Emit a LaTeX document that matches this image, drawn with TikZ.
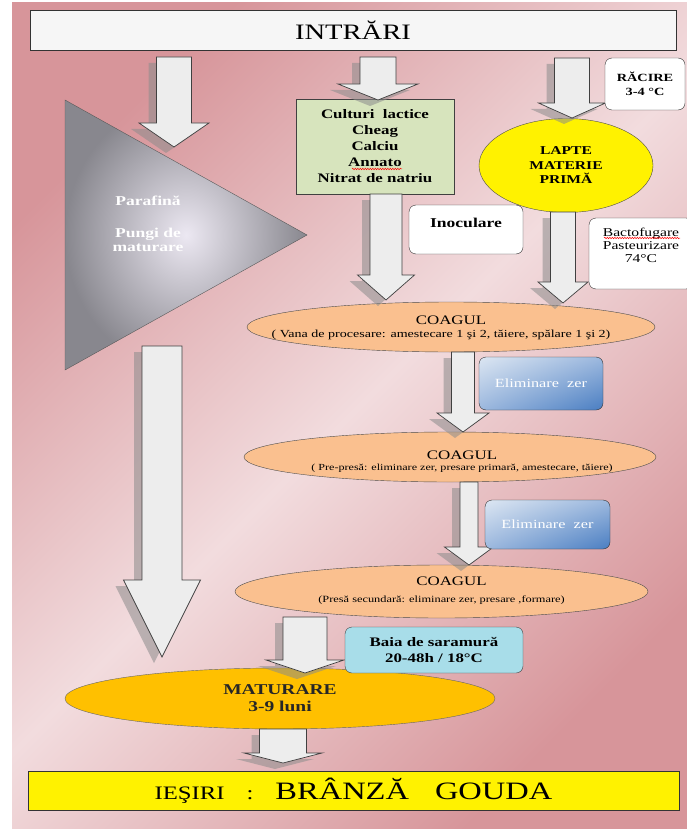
\documentclass[tikz,border=0pt]{standalone}
\usepackage{fontspec}
\setmainfont{Liberation Serif}[FakeStretch=1.3]
\usetikzlibrary{shapes.geometric,calc,shadings,decorations.pathmorphing}

\definecolor{rosedark}{HTML}{D7959A}
\definecolor{roselight}{HTML}{F2DCDE}
\definecolor{arrowgray}{HTML}{EDEDED}
\definecolor{greenbox}{HTML}{D7E4BD}
\definecolor{coagfill}{HTML}{FAC08F}
\definecolor{maturfill}{HTML}{FFC000}
\definecolor{brinefill}{HTML}{A8DDE9}
\definecolor{bluelight}{HTML}{DCE6F2}
\definecolor{bluemid}{HTML}{9CB8DE}
\definecolor{bluedark}{HTML}{4A7EC2}
\definecolor{tricenter}{HTML}{ECE8F2}
\definecolor{triedge}{HTML}{88878E}

\newcommand{\fatarrow}[5]{%
  \fill[arrowshadow] let \p1=(#1), \p2=(#2) in
    (\x2-#3pt-8pt,\y1-6pt) -- (\x2-#3pt-8pt,\y2+#5pt-6pt) -- (\x2-#4pt-8pt,\y2+#5pt-6pt)
    -- (\x2-8pt,\y2-6pt) -- (\x2+#4pt-8pt,\y2+#5pt-6pt) -- (\x2+#3pt-8pt,\y2+#5pt-6pt)
    -- (\x2+#3pt-8pt,\y1-6pt) -- cycle;
  \draw[arrowbody] let \p1=(#1), \p2=(#2) in
    (\x2-#3pt,\y1) -- (\x2-#3pt,\y2+#5pt) -- (\x2-#4pt,\y2+#5pt) -- (\x2,\y2)
    -- (\x2+#4pt,\y2+#5pt) -- (\x2+#3pt,\y2+#5pt) -- (\x2+#3pt,\y1) -- cycle;
}

\tikzset{
  whitebox/.style={draw=black!80, fill=white, rounded corners=7pt, align=center},
  coagul/.style={ellipse, draw=black!70, fill=coagfill, inner sep=0pt},
  coagtitle/.style={inner sep=1pt, font=\fontsize{13}{15}\selectfont},
  coagsub/.style={inner sep=1pt},
  zerbox/.style={draw=black!80, rounded corners=7pt, upper left=bluelight, upper right=bluemid,
    lower left=bluemid, lower right=bluedark, text=white, font=\fontsize{12.5}{14}\selectfont},
  arrowbody/.style={draw=black!75, line width=0.7pt, fill=arrowgray},
  arrowshadow/.style={fill=black!45, opacity=0.55},
  tritext/.style={text=white, align=center, font=\bfseries\fontsize{13.5}{14}\selectfont},
  spellwave/.style={red, line width=0.5pt, decorate, decoration={snake, amplitude=0.7pt, segment length=2.5pt}}
}

\begin{document}
\begin{tikzpicture}[x=1pt,y=-1pt]
  \useasboundingbox (0,0) rectangle (687,829);
  \shade[top color=rosedark, bottom color=rosedark, middle color=roselight, shading angle=45] (12,3) rectangle (687,829);

  \shade[draw=black!65, inner color=tricenter, outer color=triedge] (65,100) -- (65,370) -- (307,235) -- cycle;
  \node[tritext] (parafina) at (148,201) {Parafină};
  \node[tritext] (pungi) at (148,240) {Pungi de\\maturare};

  \node[draw=black!80, fill=gray!7, minimum width=646pt, minimum height=40pt, font=\fontsize{22}{26}\selectfont] (intrari) at (353,30) {INTRĂRI};
  \node[draw=black!75, fill=greenbox, minimum width=158pt, minimum height=95pt, align=center, font=\bfseries\fontsize{13}{16}\selectfont] (adaosuri) at (375,146.5) {Culturi\ \ lactice\\Cheag\\Calciu\\Annato\\Nitrat de natriu};
  \draw[spellwave] (352,169) -- (402,169);
  \node[ellipse, draw=black!70, fill=yellow, minimum width=174pt, minimum height=94pt, inner sep=0pt, align=center, font=\bfseries\fontsize{12}{14.5}\selectfont] (lapte) at (566,165.5) {LAPTE\\MATERIE\\PRIMĂ};

  \node[coagul, minimum width=408pt, minimum height=50pt] (coag1) at (451,327) {};
  \node[coagtitle] (coag1t) at ([yshift=7pt]coag1.center) {COAGUL};
  \node[coagsub, font=\fontsize{10.8}{12}\selectfont] (coag1s) at ([xshift=-10pt,yshift=-8pt]coag1.center) {( Vana de procesare: amestecare 1 şi 2, tăiere, spălare 1 şi 2)};

  \node[coagul, minimum width=412pt, minimum height=50pt] (coag2) at (450,457) {};
  \node[coagtitle] (coag2t) at ([xshift=12pt,yshift=2pt]coag2.center) {COAGUL};
  \node[coagsub, font=\fontsize{9.3}{11}\selectfont] (coag2s) at ([xshift=12pt,yshift=-11pt]coag2.center) {( Pre-presă: eliminare zer, presare primară, amestecare, tăiere)};

  \node[coagul, minimum width=413pt, minimum height=53pt] (coag3) at (441.5,591.5) {};
  \node[coagtitle] (coag3t) at ([xshift=10pt,yshift=10pt]coag3.center) {COAGUL};
  \node[coagsub, font=\fontsize{9.5}{11}\selectfont] (coag3s) at ([yshift=-9pt]coag3.center) {(Presă secundară: eliminare zer, presare ,formare)};

  \node[ellipse, draw=black!60, fill=maturfill, minimum width=430pt, minimum height=61pt, inner sep=0pt, align=center, text=black!85, font=\bfseries\fontsize{15}{17}\selectfont] (maturare) at (280,698.5) {MATURARE\\3-9 luni};
  \node[draw=black!80, fill=yellow, minimum width=651pt, minimum height=39pt] (iesiri) at (353.5,790.5) {\fontsize{19}{22}\selectfont IEŞIRI\hspace{22pt}:\hspace{22pt}\fontsize{25}{28}\selectfont BRÂNZĂ\hspace{26pt}GOUDA};

  \coordinate (a1s) at (174,57);  \coordinate (a1e) at (174,147);
  \coordinate (a2s) at (378,57);  \coordinate (a2e) at (378,100);
  \coordinate (a3s) at (572,58);  \coordinate (a3e) at (572,118);
  \coordinate (a4s) at (386,194); \coordinate (a4e) at (386,300);
  \coordinate (a5s) at (563,212); \coordinate (a5e) at (563,303);
  \coordinate (a6s) at (463,352); \coordinate (a6e) at (463,432);
  \coordinate (a7s) at (469,482); \coordinate (a7e) at (469,565);
  \coordinate (a8s) at (305,617); \coordinate (a8e) at (305,673);
  \coordinate (a9s) at (162,346); \coordinate (a9e) at (162,657);
  \coordinate (a10s) at (283,729); \coordinate (a10e) at (283,763);

  \fatarrow{a1s}{a1e}{17.5}{35}{24}
  \fatarrow{a2s}{a2e}{18}{40}{16}
  \fatarrow{a3s}{a3e}{17.5}{33.5}{15}
  \fatarrow{a4s}{a4e}{16}{28.5}{25}
  \fatarrow{a5s}{a5e}{12.5}{25}{21}
  \fatarrow{a6s}{a6e}{11.5}{26}{19}
  \fatarrow{a7s}{a7e}{9}{24.5}{18}
  \fatarrow{a8s}{a8e}{22}{39}{13}
  \fatarrow{a9s}{a9e}{20}{38.5}{77}
  \fatarrow{a10s}{a10e}{23.5}{39}{10}

  \node[whitebox, minimum width=80pt, minimum height=52pt, font=\bfseries\fontsize{11}{14}\selectfont] (racire) at (645,84) {RĂCIRE\\3-4 °C};
  \node[whitebox, minimum width=114pt, minimum height=49pt] (inoculare) at (466,229.5) {};
  \node[font=\bfseries\fontsize{13.5}{15}\selectfont] (inoctext) at ([yshift=7pt]inoculare.center) {Inoculare};
  \node[whitebox, minimum width=104pt, minimum height=71pt] (bacto) at (641,253.5) {};
  \node[align=center, font=\fontsize{12}{13}\selectfont] (bactotext) at ([yshift=8.5pt]bacto.center) {Bactofugare\\Pasteurizare\\74°C};
  \draw[spellwave] (604,238) -- (680,238);
  \node[zerbox, minimum width=124pt, minimum height=53pt] (zer1) at (541,383.5) {Eliminare\ \ zer};
  \node[zerbox, minimum width=125pt, minimum height=49pt] (zer2) at (547.5,524.5) {Eliminare\ \ zer};
  \node[draw=black!75, fill=brinefill, rounded corners=7pt, minimum width=178pt, minimum height=46pt, align=center, font=\bfseries\fontsize{13}{16}\selectfont] (saramura) at (434,650) {Baia de saramură\\20-48h / 18°C};
\end{tikzpicture}
\end{document}
